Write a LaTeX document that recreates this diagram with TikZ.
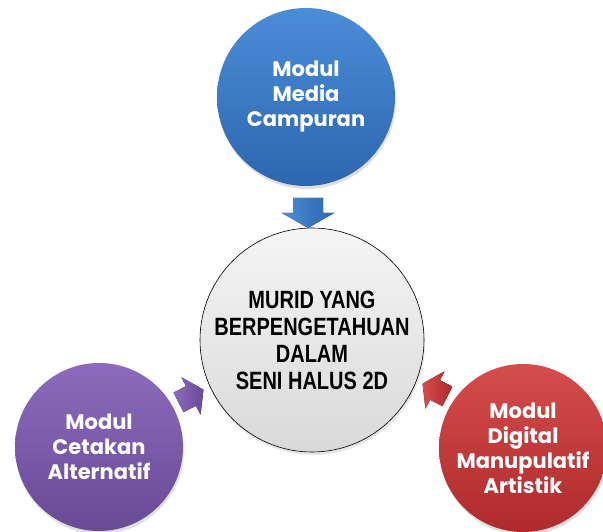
\documentclass[tikz,border=0pt]{standalone}
\usepackage{fontspec}
\usetikzlibrary{shadows}

\newfontfamily\modulfont{Poppins}
\newfontfamily\muridfont{Liberation Sans}[FakeStretch=0.80]

\definecolor{biruA}{HTML}{4C8DD8}
\definecolor{biruB}{HTML}{2C66AE}
\definecolor{unguA}{HTML}{8C6BBC}
\definecolor{unguB}{HTML}{684A96}
\definecolor{merahA}{HTML}{D64C4C}
\definecolor{merahB}{HTML}{AE2A2C}

\tikzset{
  modul/.style={circle, minimum size=#1, inner sep=0pt, align=center, text=white,
    font=\modulfont\bfseries\fontsize{21}{25}\selectfont,
    drop shadow={opacity=0.25, shadow xshift=1pt, shadow yshift=-3pt}},
  % anak panah blok: batang 2a lebar, kepala 2b lebar
  pics/panah/.style args={#1/#2/#3/#4}{code={
    \fill[left color=#3, right color=#4]
      (-#1,-#2) -- (0,-#2) -- (0,-#1-#2+4) -- (#1,0) -- (0,#1+#2-4) -- (0,#2) -- (-#1,#2) -- cycle;
  }},
}

\begin{document}
\begin{tikzpicture}[x=1pt, y=-1pt]
            \clip (0,0) rectangle (603,532);

            % bulatan tengah
            \node[circle, draw=black, line width=0.6pt, minimum size=224pt, inner sep=0pt,
                  top color=gray!8, bottom color=gray!30, align=center,
                  font=\muridfont\bfseries\fontsize{25}{27}\selectfont,
                  drop shadow={opacity=0.2, shadow xshift=1pt, shadow yshift=-3pt}]
                  (murid) at (312,340) {MURID YANG\\BERPENGETAHUAN\\DALAM\\SENI HALUS 2D};

            % tiga modul
            \node[modul=178pt, top color=biruA, bottom color=biruB] (media) at (306,97) {Modul\\Media\\Campuran};
            \node[modul=168pt, top color=unguA, bottom color=unguB] (cetakan) at (99,447) {Modul\\Cetakan\\Alternatif};
            \node[modul=168pt, top color=merahA, bottom color=merahB] (digital) at (523,448) {Modul\\Digital\\Manupulatif\\Artistik};

            % anak panah ke tengah
            \pic[rotate=-90] (pMedia) at (308,213) {panah=15/15/biruA/biruB};
            \pic[rotate=27] (pCetakan) at (191,396) {panah=14/11/unguA/unguB};
            \pic[rotate=153] (pDigital) at (435,390) {panah=14/11/merahA/merahB};
        \end{tikzpicture}
\end{document}
